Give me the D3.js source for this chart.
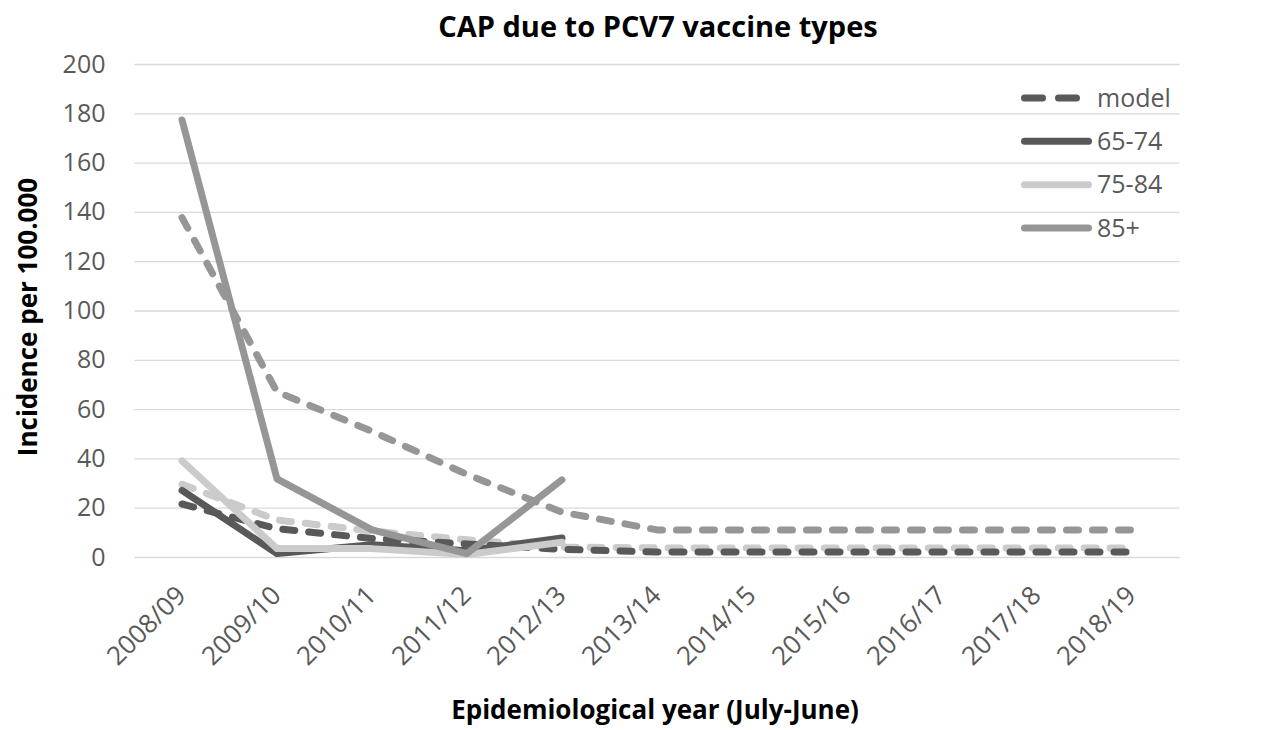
<!DOCTYPE html>
<html>
<head>
<meta charset="utf-8">
<script src="https://cdn.jsdelivr.net/npm/d3@7"></script>
<style>
  html, body { margin: 0; padding: 0; background: #ffffff; }
  svg { display: block; }
  text { font-family: "Open Sans", "Liberation Sans", sans-serif; }
</style>
</head>
<body>
<svg id="chart" width="1269" height="730"></svg>
<script>
// ---- data ----
const categories = ["2008/09", "2009/10", "2010/11", "2011/12", "2012/13", "2013/14",
                    "2014/15", "2015/16", "2016/17", "2017/18", "2018/19"];
const model6574 = [21.5, 11.5, 7.5, 5.3, 3.1, 2, 2, 2, 2, 2, 2];
const model7584 = [29.5, 15, 10.5, 7, 4, 3.7, 3.7, 3.7, 3.7, 3.7, 3.7];
const model85   = [137.7, 67, 51, 33.5, 18.2, 11, 11, 11, 11, 11, 11];
const obs6574 = [27, 1.4, 5, 2.5, 7.7];
const obs7584 = [39, 3.4, 3.4, 1, 6];
const obs85   = [177.3, 31.7, 11, 1.4, 31.3];
const yTicks = [0, 20, 40, 60, 80, 100, 120, 140, 160, 180, 200];
const legendItems = [
  { label: "model", color: "#595959", dashed: true },
  { label: "65-74", color: "#595959", dashed: false },
  { label: "75-84", color: "#cbcbcb", dashed: false },
  { label: "85+",   color: "#969696", dashed: false }
];

// ---- layout ----
const plot = { left: 134.5, right: 1179.5, top: 64, bottom: 557 };
const svg = d3.select("#chart");

const x = d3.scalePoint().domain(categories).range([plot.left, plot.right]).padding(0.5);
const y = d3.scaleLinear().domain([0, 200]).range([plot.bottom, plot.top]);

// gridlines
svg.append("g")
  .attr("transform", `translate(${plot.left},0)`)
  .call(d3.axisLeft(y).tickValues(yTicks).tickSize(-(plot.right - plot.left)).tickFormat(""))
  .call(g => g.select(".domain").remove())
  .call(g => g.selectAll("line").attr("stroke", "#d9d9d9").attr("stroke-width", 1.3));

// y tick labels
svg.append("g")
  .attr("transform", `translate(${plot.left},0)`)
  .call(d3.axisLeft(y).tickValues(yTicks).tickSize(0).tickPadding(29))
  .call(g => g.select(".domain").remove())
  .call(g => g.selectAll("text")
     .attr("fill", "#595959").style("font-size", "25px")
     .style("font-family", "'Open Sans', sans-serif"));

// x tick labels
svg.append("g")
  .attr("transform", `translate(0,${plot.bottom})`)
  .call(d3.axisBottom(x).tickSize(0))
  .call(g => g.select(".domain").remove())
  .call(g => g.selectAll("text")
     .attr("fill", "#595959").style("font-size", "26px")
     .style("font-family", "'Open Sans', sans-serif")
     .attr("text-anchor", "end")
     .attr("x", 0).attr("y", 0).attr("dy", 0)
     .attr("transform", "translate(5,40) rotate(-45)"));

// lines
const line = d3.line()
  .defined(d => d != null)
  .x((d, i) => x(categories[i]))
  .y(d => y(d))
  .curve(d3.curveLinear);

const series = [
  { data: model85,   color: "#969696", dashed: true },
  { data: model7584, color: "#cbcbcb", dashed: true },
  { data: model6574, color: "#595959", dashed: true },
  { data: obs6574,   color: "#595959", dashed: false },
  { data: obs7584,   color: "#cbcbcb", dashed: false },
  { data: obs85,     color: "#969696", dashed: false }
];

svg.append("g").selectAll("path")
  .data(series)
  .join("path")
  .attr("d", s => line(s.data))
  .attr("fill", "none")
  .attr("stroke", s => s.color)
  .attr("stroke-width", 7)
  .attr("stroke-linecap", "round")
  .attr("stroke-linejoin", "round")
  .attr("stroke-dasharray", s => s.dashed ? "12,14" : null);

// legend
const lg = svg.append("g");
const legendY = d3.scalePoint().domain(legendItems.map(d => d.label)).range([98, 228]);
legendItems.forEach(it => {
  const yy = legendY(it.label);
  lg.append("line")
    .attr("x1", 1024.5).attr("x2", 1088.5).attr("y1", yy).attr("y2", yy)
    .attr("stroke", it.color).attr("stroke-width", 7)
    .attr("stroke-linecap", "round")
    .attr("stroke-dasharray", it.dashed ? "18,16" : null);
  lg.append("text")
    .attr("x", 1097).attr("y", yy).attr("dy", "0.35em")
    .attr("fill", "#595959").style("font-size", "25px")
    .text(it.label);
});

// titles
svg.append("text")
  .attr("x", 658).attr("y", 37)
  .attr("text-anchor", "middle")
  .style("font-size", "29px").style("font-weight", "bold")
  .attr("fill", "#000")
  .text("CAP due to PCV7 vaccine types");

svg.append("text")
  .attr("transform", "translate(37,317) rotate(-90)")
  .attr("text-anchor", "middle")
  .style("font-size", "26px").style("font-weight", "bold")
  .attr("fill", "#000")
  .text("Incidence per 100.000");

svg.append("text")
  .attr("x", 655).attr("y", 719)
  .attr("text-anchor", "middle")
  .style("font-size", "26px").style("font-weight", "bold")
  .attr("fill", "#000")
  .text("Epidemiological year (July-June)");
</script>
</body>
</html>
